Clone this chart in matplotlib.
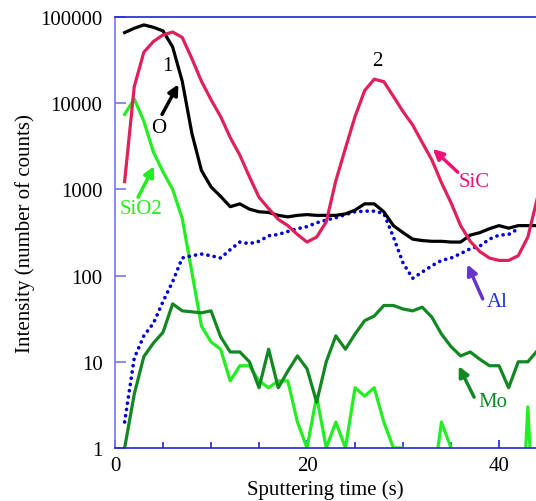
import numpy as np
import matplotlib.pyplot as plt
from matplotlib.ticker import MultipleLocator, FixedLocator, FixedFormatter

plt.rcParams['font.family'] = ['Liberation Serif', 'DejaVu Serif']

# sputtering time grid (s)
t = np.arange(1, 45)

sic = [1230, 15500, 39000, 52000, 62000, 67000, 58000, 33000, 18000, 11000,
       7000, 4000, 2500, 1400, 810, 600, 450, 380, 300, 245,
       280, 420, 1260, 3000, 7000, 14000, 19000, 17800, 12000, 8000,
       5600, 3500, 2200, 1200, 700, 380, 250, 190, 160, 150,
       150, 170, 280, 800]

oxy = [66000, 74000, 81000, 76000, 69000, 45000, 18000, 4500, 1660, 1070,
       830, 630, 680, 590, 550, 540, 500, 480, 500, 510,
       500, 500, 500, 520, 575, 680, 680, 550, 380, 315,
       265, 255, 250, 250, 245, 245, 295, 315, 350, 380,
       355, 380, 380, 380]

al_t = np.arange(1, 43)
al = [2, 11, 20, 28, 50, 85, 160, 170, 178, 170,
      160, 200, 245, 235, 250, 290, 300, 325, 350, 370,
      410, 440, 470, 510, 550, 560, 560, 525, 280, 140,
      93, 110, 130, 150, 160, 180, 205, 220, 265, 295,
      300, 350]

sio2 = [7400, 11200, 6200, 2700, 1600, 1000, 460, 110, 26, 17,
        14, 6, 9, 9, 6, 5, 6, 6, 2, 1,
        4, 1, 2, 1, 5, 4, 5, 2, 1, 1,
        0.5, 0.5, 0.3, 2, 1, 0.5, 0.5, 0.5, 0.5, 0.5,
        0.3, 0.02, 3, 0.02]

mo = [1, 4.2, 11.5, 16.5, 22, 47, 39, 38, 37, 39,
      19.5, 13, 13, 10, 5, 14, 5, 7.8, 11.7, 8.3,
      3.4, 10, 20, 14, 21, 30, 34, 45, 45, 41,
      39, 43, 33, 21, 15, 11.7, 13, 10.7, 9, 9,
      5, 10, 10, 13.5]

y_ticks = [1, 10, 100, 1000, 10000, 100000]
y_labels = ['1', '10', '100', '1000', '10000', '100000']

fig = plt.figure(figsize=(5.36, 5.02), dpi=100)
ax = fig.add_axes([0.2146, 0.1056, 0.7854, 0.8585])

ax.plot(t, sio2, color='#22ee22', lw=2.3)
ax.plot(t, mo, color='#118822', lw=2.3)
ax.plot(al_t, al, color='#0000dd', lw=2.6, linestyle=(0, (0.05, 1.7)),
        dash_capstyle='round')
ax.plot(t, oxy, color='black', lw=2.3)
ax.plot(t, sic, color='#e0205a', lw=2.3)

ax.set_yscale('log')
ax.set_ylim(1, 100000)
ax.set_xlim(0, 43.85)
ax.yaxis.set_major_locator(FixedLocator(y_ticks))
ax.yaxis.set_major_formatter(FixedFormatter(y_labels))
ax.yaxis.set_minor_locator(FixedLocator([]))
ax.xaxis.set_major_locator(MultipleLocator(20))
ax.xaxis.set_minor_locator(MultipleLocator(5))

ax.spines['right'].set_visible(False)
ax.spines['left'].set_color('#7777ee')
ax.spines['top'].set_color('#2222dd')
ax.spines['bottom'].set_color('#2222dd')
for s in ax.spines.values():
    s.set_linewidth(1.2)

ax.tick_params(axis='y', which='major', direction='in', length=8, width=1.2,
               color='#7777ee', labelsize=15, pad=9)
ax.tick_params(axis='x', which='major', direction='in', length=6, width=1.2,
               color='#2222dd', labelsize=15, pad=6)
ax.tick_params(axis='x', which='minor', direction='in', length=4, width=1.2,
               color='#2222dd')

ax.set_xlabel('Sputtering time (s)', fontsize=15, labelpad=3)
ax.set_ylabel('Intensity (number of counts)', fontsize=15, labelpad=4)

# peak labels
ax.text(5.5, 10**4.44, '1', fontsize=15, ha='center', va='center')
ax.text(27.3, 10**4.49, '2', fontsize=15, ha='center', va='center')

arrow = dict(arrowstyle='-|>', lw=2.5, mutation_scale=15, shrinkA=0, shrinkB=0)

ax.annotate('', xy=(6.6, 10**4.22), xytext=(4.9, 10**3.87),
            arrowprops=dict(arrow, color='black'))
ax.text(4.5, 10**3.72, 'O', fontsize=15, ha='center', va='center')

ax.annotate('', xy=(4.07, 10**3.27), xytext=(2.4, 10**2.91),
            arrowprops=dict(arrow, color='#22ee22'))
ax.text(0.45, 10**2.78, 'SiO2', fontsize=15, ha='left', va='center',
        color='#22ee22')

ax.annotate('', xy=(33.1, 10**3.47), xytext=(35.7, 10**3.20),
            arrowprops=dict(arrow, color='#ee1177'))
ax.text(35.8, 10**3.09, 'SiC', fontsize=15, ha='left', va='center',
        color='#ee1177')

ax.annotate('', xy=(36.7, 10**2.13), xytext=(38.3, 10**1.73),
            arrowprops=dict(arrow, color='#6633cc'))
ax.text(38.7, 10**1.70, 'Al', fontsize=15, ha='left', va='center',
        color='#2233dd')

ax.annotate('', xy=(35.8, 10**0.95), xytext=(37.4, 10**0.59),
            arrowprops=dict(arrow, color='#118822'))
ax.text(37.8, 10**0.54, 'Mo', fontsize=15, ha='left', va='center',
        color='#118822')

fig.savefig('out.png', dpi=100)
